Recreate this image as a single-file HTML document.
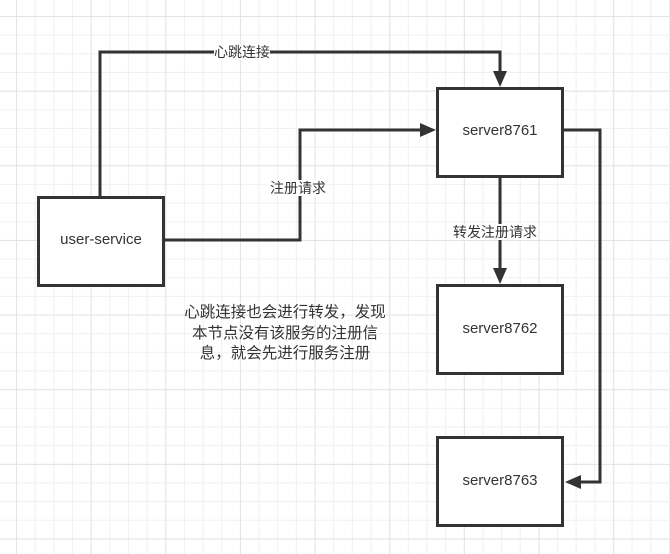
<!DOCTYPE html>
<html><head><meta charset="utf-8"><style>
html,body{margin:0;padding:0}
body{width:670px;height:554px;position:relative;overflow:hidden;background-color:#fff;
background-image:
linear-gradient(to right,#e4e4e4 1px,transparent 1px),
linear-gradient(to bottom,#e4e4e4 1px,transparent 1px),
linear-gradient(to right,#f0f0f0 1px,transparent 1px),
linear-gradient(to bottom,#f0f0f0 1px,transparent 1px);
background-size:74.67px 74.67px,74.67px 74.67px,18.67px 18.67px,18.67px 18.67px;
background-position:16px 16px,16px 16px,16px 16px,16px 16px;
font-family:"Liberation Sans","Noto Sans CJK SC",sans-serif;color:#333}
svg{position:absolute;left:0;top:0}
.t{position:absolute;font-size:15px;text-align:center;white-space:nowrap}
.lbl{position:absolute;font-size:14px;background:#fff;white-space:nowrap;line-height:16px}
</style></head><body>
<svg width="670" height="554">
<g fill="#fff" stroke="#333" stroke-width="3">
<rect x="38.5" y="197.5" width="125" height="88"/>
<rect x="437.5" y="88.5" width="125" height="88"/>
<rect x="437.5" y="285.5" width="125" height="88"/>
<rect x="437.5" y="437.5" width="125" height="88"/>
</g>
<g fill="none" stroke="#333" stroke-width="3">
<polyline points="100,197 100,52 500,52 500,74"/>
<polyline points="163,240 300,240 300,130 423,130"/>
<polyline points="500,176 500,271"/>
<polyline points="563,130 600,130 600,482 578,482"/>
</g>
<g fill="#333">
<polygon points="493,71 507,71 500,87"/>
<polygon points="420,123 420,137 436,130"/>
<polygon points="493,268 507,268 500,284"/>
<polygon points="581,475 581,489 565,482"/>
</g>
</svg>
<div class="t" style="left:38px;top:231px;width:126px">user-service</div>
<div class="t" style="left:437px;top:122px;width:126px">server8761</div>
<div class="t" style="left:437px;top:320px;width:126px">server8762</div>
<div class="t" style="left:437px;top:472px;width:126px">server8763</div>
<div class="lbl" style="left:214px;top:44px">心跳连接</div>
<div class="lbl" style="left:270px;top:180px">注册请求</div>
<div class="lbl" style="left:453px;top:224px">转发注册请求</div>
<div style="position:absolute;left:170px;top:303px;width:230px;text-align:center;font-size:15.5px;line-height:20.5px">心跳连接也会进行转发，发现<br>本节点没有该服务的注册信<br>息，就会先进行服务注册</div>
</body></html>
